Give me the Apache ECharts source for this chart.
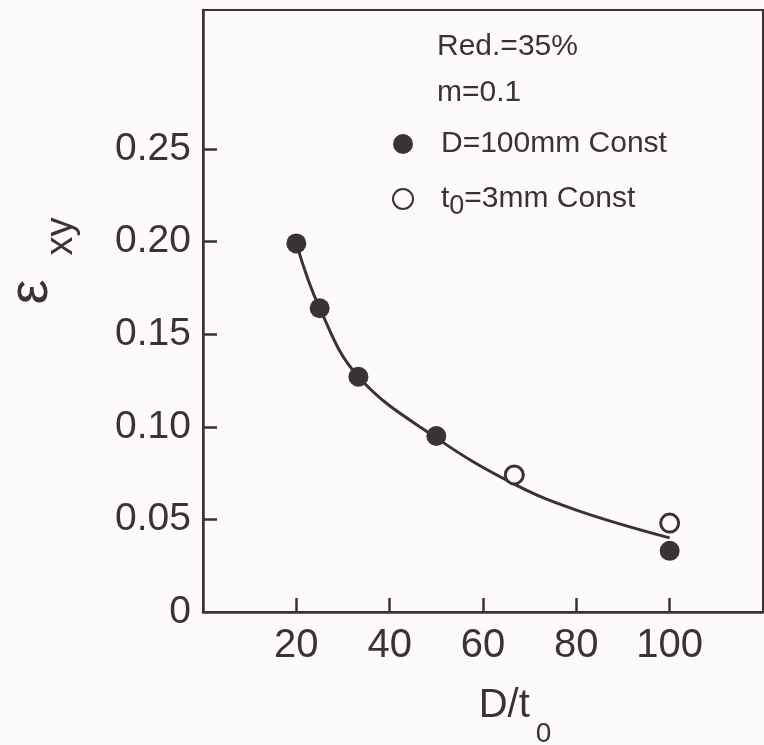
<!DOCTYPE html>
<html>
<head>
<meta charset="utf-8">
<script src="https://cdn.jsdelivr.net/npm/echarts@6/dist/echarts.min.js"></script>
<style>
html,body{margin:0;padding:0;background:#fcfafc;}
#chart{width:764px;height:745px;}
</style>
</head>
<body>
<div id="chart"></div>
<script>
// Data
const dtFilled = [20, 25, 33.3, 50, 100];          // D = 100 mm const
const exyFilled = [0.199, 0.164, 0.127, 0.095, 0.033];
const dtOpen = [66.7, 100];                         // t0 = 3 mm const
const exyOpen = [0.074, 0.048];
const curveX = [20, 25, 33.3, 50, 66.7, 80, 100];   // fitted curve
const curveY = [0.199, 0.164, 0.127, 0.094, 0.069, 0.055, 0.040];
const xTicks = [20, 40, 60, 80, 100];
const yTicks = [0, 0.05, 0.10, 0.15, 0.20, 0.25];
const notes = ['Red.=35%', 'm=0.1'];
const seriesNames = ['D=100mm Const', 't0=3mm Const'];

const INK = '#3b3237';
const FONT = '"Liberation Sans", Arial, sans-serif';

const chart = echarts.init(document.getElementById('chart'));
const pairs = (xs, ys) => xs.map((x, i) => [x, ys[i]]);

chart.setOption({
  backgroundColor: '#fcfafc',
  animation: false,
  textStyle: { fontFamily: FONT, color: INK },
  title: {
    text: notes.join('\n'),
    left: 437, top: 24, padding: 0,
    textStyle: { fontFamily: FONT, fontSize: 30, fontWeight: 'normal', color: INK, lineHeight: 46 }
  },
  legend: {
    orient: 'vertical',
    left: 392, top: 129, padding: 0, itemGap: 25,
    itemWidth: 20, itemHeight: 20,
    data: seriesNames,
    formatter: function (name) {
      if (name.indexOf('t0') === 0) return '{g|}{m|t}{s|0}{m|' + name.slice(2) + '}';
      return '{g|}{m|' + name + '}';
    },
    textStyle: {
      rich: {
        g: { width: 23 },
        m: { fontFamily: FONT, fontSize: 30, color: INK, lineHeight: 43 },
        s: { fontFamily: FONT, fontSize: 27, color: INK, lineHeight: 13, verticalAlign: 'bottom' }
      }
    }
  },
  grid: {
    left: 203, top: 10, right: 1, bottom: 133,
    outerBoundsMode: 'none', containLabel: false,
    show: true, borderColor: INK, borderWidth: 2, backgroundColor: 'transparent'
  },
  xAxis: {
    type: 'value', min: 0, max: 120, interval: 20,
    name: '{m|D/t}{g|}{s|0}',
    nameLocation: 'middle', nameGap: 52,
    nameTextStyle: {
      padding: [0, 0, 0, 64],
      rich: {
        m: { fontFamily: FONT, fontSize: 40, color: INK, lineHeight: 84 },
        g: { width: 6 },
        s: { fontFamily: FONT, fontSize: 28, color: INK, lineHeight: 28, verticalAlign: 'bottom' }
      }
    },
    axisLine: { lineStyle: { color: INK, width: 2.5 } },
    axisTick: { inside: true, length: 14, lineStyle: { color: INK, width: 2.5 }, customValues: xTicks },
    axisLabel: { fontFamily: FONT, fontSize: 40, color: INK, margin: 14, customValues: xTicks },
    splitLine: { show: false }
  },
  yAxis: {
    type: 'value', min: 0, max: 0.325, interval: 0.05,
    name: '{e|ε}{g|}{s|xy}',
    nameLocation: 'middle', nameGap: 122, nameRotate: 90,
    nameTextStyle: {
      padding: [0, 0, 0, 100],
      rich: {
        e: { fontFamily: FONT, fontSize: 56, color: INK, lineHeight: 98 },
        g: { width: 24 },
        s: { fontFamily: FONT, fontSize: 38, color: INK, lineHeight: 38, verticalAlign: 'bottom' }
      }
    },
    axisLine: { lineStyle: { color: INK, width: 2.5 } },
    axisTick: { inside: true, length: 14, lineStyle: { color: INK, width: 2.5 }, customValues: yTicks.slice(1) },
    axisLabel: {
      fontFamily: FONT, fontSize: 39, color: INK, margin: 12, customValues: yTicks,
      formatter: v => (v === 0 ? '0' : v.toFixed(2))
    },
    splitLine: { show: false }
  },
  series: [
    {
      name: 'curve', type: 'line', smooth: 0.4, showSymbol: false, silent: true,
      data: pairs(curveX, curveY),
      lineStyle: { color: INK, width: 3 }, z: 2
    },
    {
      name: seriesNames[0], type: 'scatter', symbol: 'circle', symbolSize: 20,
      data: pairs(dtFilled, exyFilled),
      itemStyle: { color: INK, opacity: 1 }, z: 3
    },
    {
      name: seriesNames[1], type: 'scatter', symbol: 'circle', symbolSize: 18,
      data: pairs(dtOpen, exyOpen),
      itemStyle: { color: '#fcfafc', borderColor: INK, borderWidth: 3, opacity: 1 }, z: 3
    }
  ]
});
</script>
</body>
</html>
